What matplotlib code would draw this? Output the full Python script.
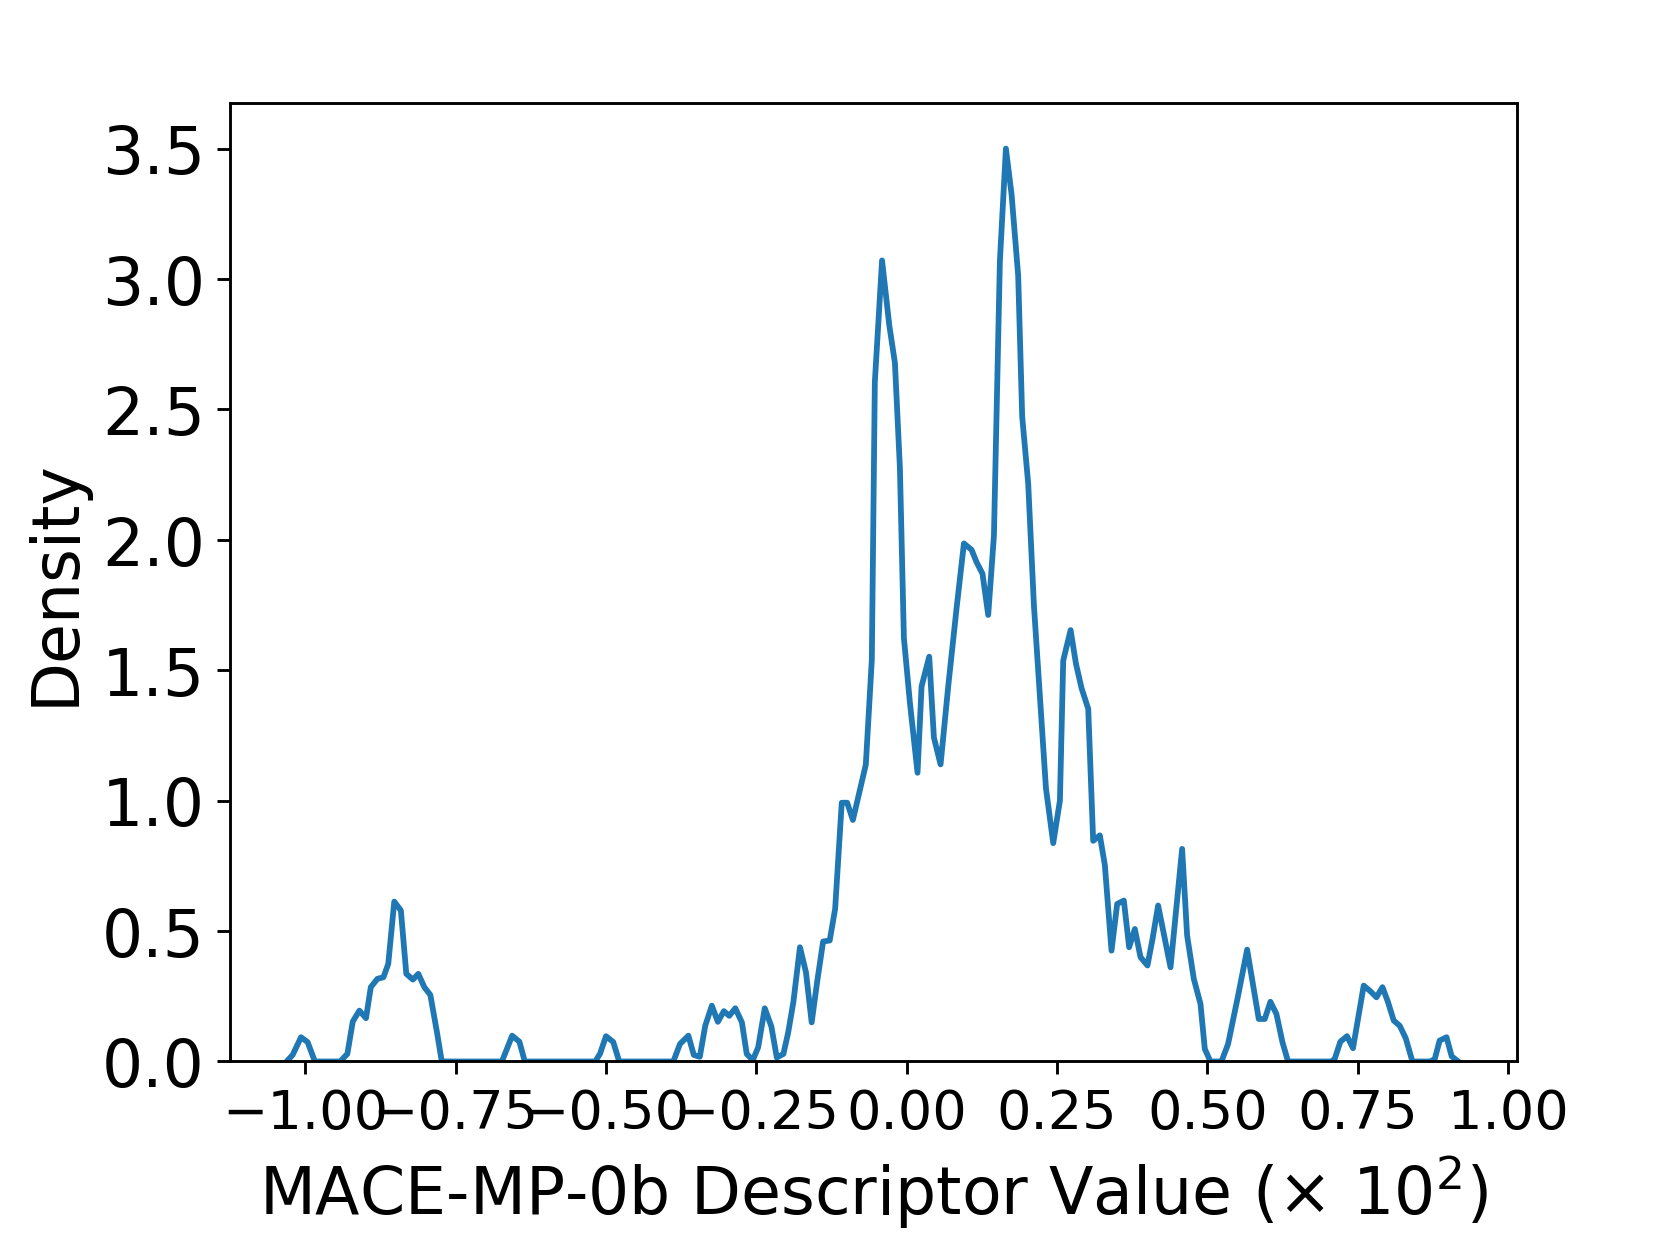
import matplotlib

matplotlib.use("Agg")
import matplotlib.pyplot as plt

# density curve vertices (descriptor value / 100, density)
desc_x = [
    -1.031, -1.021, -1.007, -0.996, -0.984, -0.942, -0.930, -0.921, -0.910, -0.899,
    -0.891, -0.880, -0.870, -0.862, -0.852, -0.841, -0.832, -0.821, -0.812, -0.802,
    -0.792, -0.781, -0.773, -0.673, -0.668, -0.656, -0.644, -0.635, -0.518, -0.510,
    -0.500, -0.488, -0.478, -0.388, -0.377, -0.363, -0.354, -0.344, -0.335, -0.324,
    -0.314, -0.304, -0.295, -0.285, -0.274, -0.266, -0.256, -0.247, -0.236, -0.225,
    -0.216, -0.205, -0.197, -0.1885, -0.1775, -0.1675, -0.158, -0.149, -0.139, -0.128,
    -0.119, -0.108, -0.099, -0.0895, -0.068, -0.058, -0.053, -0.041, -0.029, -0.0196,
    -0.0113, -0.0047, 0.0053, 0.018, 0.0247, 0.0374, 0.0452, 0.0563, 0.069, 0.0829,
    0.0951, 0.1078, 0.116, 0.126, 0.1355, 0.145, 0.1549, 0.1649, 0.1743, 0.1853,
    0.192, 0.202, 0.2115, 0.2215, 0.2315, 0.2436, 0.2547, 0.2602, 0.2725, 0.2813,
    0.2907, 0.3018, 0.310, 0.3211, 0.3294, 0.3405, 0.3499, 0.361, 0.3698, 0.3793,
    0.3887, 0.4003, 0.4087, 0.418, 0.4291, 0.4386, 0.4485, 0.4579, 0.4662, 0.4773,
    0.4884, 0.4956, 0.505, 0.5233, 0.5343, 0.551, 0.566, 0.576, 0.5853, 0.5953,
    0.6047, 0.6147, 0.6247, 0.634, 0.706, 0.7116, 0.721, 0.732, 0.742, 0.7598,
    0.771, 0.781, 0.791, 0.800, 0.8097, 0.8197, 0.8297, 0.8408, 0.8707, 0.878,
    0.886, 0.8975, 0.906, 0.917,
]
density = [
    0.0, 0.025, 0.093, 0.074, 0.0, 0.0, 0.029, 0.153, 0.195, 0.166,
    0.285, 0.317, 0.323, 0.374, 0.613, 0.579, 0.336, 0.314, 0.336, 0.285,
    0.255, 0.112, 0.0, 0.0, 0.029, 0.099, 0.076, 0.0, 0.0, 0.029,
    0.097, 0.075, 0.0, 0.0, 0.067, 0.099, 0.025, 0.018, 0.137, 0.214,
    0.152, 0.193, 0.175, 0.204, 0.150, 0.029, 0.005, 0.054, 0.204, 0.134,
    0.015, 0.029, 0.112, 0.227, 0.438, 0.342, 0.150, 0.304, 0.460, 0.464,
    0.585, 0.992, 0.992, 0.926, 1.138, 1.541, 2.605, 3.071, 2.823, 2.678,
    2.275, 1.624, 1.376, 1.107, 1.438, 1.552, 1.242, 1.139, 1.438, 1.738,
    1.986, 1.962, 1.915, 1.870, 1.712, 2.016, 3.068, 3.500, 3.325, 3.014,
    2.472, 2.215, 1.748, 1.397, 1.047, 0.837, 1.000, 1.537, 1.654, 1.526,
    1.431, 1.352, 0.846, 0.867, 0.753, 0.425, 0.604, 0.617, 0.438, 0.508,
    0.400, 0.368, 0.470, 0.598, 0.470, 0.361, 0.592, 0.815, 0.483, 0.317,
    0.221, 0.048, 0.0, 0.0, 0.067, 0.253, 0.429, 0.291, 0.163, 0.163,
    0.229, 0.182, 0.074, 0.0, 0.0, 0.010, 0.076, 0.097, 0.051, 0.291,
    0.269, 0.246, 0.285, 0.229, 0.157, 0.137, 0.089, 0.0, 0.0, 0.010,
    0.080, 0.093, 0.020, 0.0,
]
x_ticks = [-1.0, -0.75, -0.5, -0.25, 0.0, 0.25, 0.5, 0.75, 1.0]
y_ticks = [0.0, 0.5, 1.0, 1.5, 2.0, 2.5, 3.0, 3.5]

fig, ax = plt.subplots(figsize=(6.4, 4.8), dpi=259.55)
fig.subplots_adjust(left=0.1385, right=0.913, top=0.9167, bottom=0.1473)

ax.plot(desc_x, density, color="#1f77b4", linewidth=1.6)

ax.set_xlim(-1.125, 1.014)
ax.set_ylim(0, 3.675)
ax.set_xticks(x_ticks)
ax.set_xticklabels([f"{t:.2f}".replace("-", "\u2212") for t in x_ticks])
ax.set_yticks(y_ticks)
ax.set_yticklabels([f"{t:.1f}" for t in y_ticks])
ax.tick_params(axis="x", labelsize=15)
ax.tick_params(axis="y", labelsize=18)

ax.set_xlabel(r"MACE-MP-0b Descriptor Value ($\times$ 10$^2$)", fontsize=18)
ax.set_ylabel("Density", fontsize=18)

fig.savefig("out.png")
